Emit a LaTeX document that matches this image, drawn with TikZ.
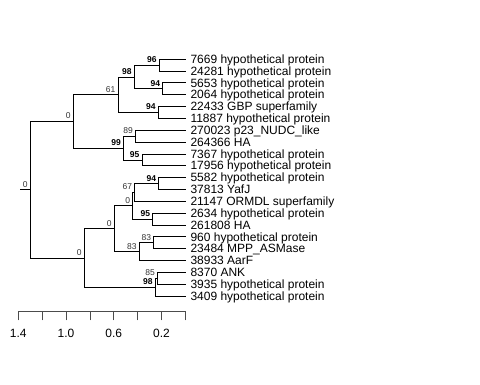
\documentclass[tikz,border=0pt]{standalone}
\usepackage{fontspec}
\setmainfont{Liberation Sans}

\begin{document}
\begin{tikzpicture}[x=1pt,y=-1pt,
	branch/.style={line width=0.6pt,line cap=rect},
	tip/.style={anchor=base west,inner sep=0pt,xshift=5pt,yshift=-4.3pt,font=\fontsize{12}{12}\selectfont},
	boot/.style={anchor=base east,inner sep=0pt,xshift=-2.5pt,yshift=2.5pt,font=\fontsize{8.5}{8.5}\selectfont\bfseries},
	weak/.style={boot,font=\fontsize{8.5}{8.5}\selectfont,text=black!80},
	scalelab/.style={anchor=center,inner sep=0pt,font=\fontsize{12}{12}\selectfont}]

	\useasboundingbox (0,0) rectangle (480,384);

	\foreach \lab [count=\i from 0] in {7669 hypothetical protein,24281 hypothetical protein,
		5653 hypothetical protein,2064 hypothetical protein,22433 GBP superfamily,
		11887 hypothetical protein,270023 p23\_NUDC\_like,264366 HA,
		7367 hypothetical protein,17956 hypothetical protein,5582 hypothetical protein,
		37813 YafJ,21147 ORMDL superfamily,2634 hypothetical protein,261808 HA,
		960 hypothetical protein,23484 MPP\_ASMase,38933 AarF,8370 ANK,
		3935 hypothetical protein,3409 hypothetical protein}{
		\coordinate (t\i) at (185.3,59+11.85*\i);
		\node[tip] (n\i) at (t\i) {\lab};
	}

	\coordinate (A) at (159.3,64.9);
	\coordinate (B) at (162.7,88.7);
	\coordinate (C) at (134.3,76.8);
	\coordinate (D) at (158.3,112.4);
	\coordinate (E) at (118,94.6);
	\coordinate (F) at (135.5,136.1);
	\coordinate (G) at (142,159.8);
	\coordinate (H) at (123.5,147.9);
	\coordinate (I) at (73.3,121.2);
	\coordinate (J) at (158.7,183.5);
	\coordinate (K) at (134.7,192.3);
	\coordinate (M) at (152.7,219);
	\coordinate (L) at (132.7,205.7);
	\coordinate (P) at (153.7,242.7);
	\coordinate (O) at (139.3,251.6);
	\coordinate (N) at (114.3,228.6);
	\coordinate (Q) at (157.5,278.3);
	\coordinate (R) at (155.3,287.2);
	\coordinate (S) at (84.3,257.9);
	\coordinate (root) at (30.3,189.6);
	\coordinate (stub) at (20,189.6);

	\draw[branch] (A) |- (t0);
	\draw[branch] (A) |- (t1);
	\draw[branch] (B) |- (t2);
	\draw[branch] (B) |- (t3);
	\draw[branch] (C) |- (A);
	\draw[branch] (C) |- (B);
	\draw[branch] (D) |- (t4);
	\draw[branch] (D) |- (t5);
	\draw[branch] (E) |- (C);
	\draw[branch] (E) |- (D);
	\draw[branch] (F) |- (t6);
	\draw[branch] (F) |- (t7);
	\draw[branch] (G) |- (t8);
	\draw[branch] (G) |- (t9);
	\draw[branch] (H) |- (F);
	\draw[branch] (H) |- (G);
	\draw[branch] (I) |- (E);
	\draw[branch] (I) |- (H);

	\draw[branch] (J) |- (t10);
	\draw[branch] (J) |- (t11);
	\draw[branch] (K) |- (J);
	\draw[branch] (K) |- (t12);
	\draw[branch] (M) |- (t13);
	\draw[branch] (M) |- (t14);
	\draw[branch] (L) |- (K);
	\draw[branch] (L) |- (M);
	\draw[branch] (P) |- (t15);
	\draw[branch] (P) |- (t16);
	\draw[branch] (O) |- (P);
	\draw[branch] (O) |- (t17);
	\draw[branch] (N) |- (L);
	\draw[branch] (N) |- (O);
	\draw[branch] (Q) |- (t18);
	\draw[branch] (Q) |- (t19);
	\draw[branch] (R) |- (Q);
	\draw[branch] (R) |- (t20);
	\draw[branch] (S) |- (N);
	\draw[branch] (S) |- (R);

	\draw[branch] (root) |- (I);
	\draw[branch] (root) |- (S);
	\draw[branch] (stub) -- (root);

	\node[boot] (bA) at (A) {96};
	\node[boot] (bB) at (B) {94};
	\node[boot] (bC) at (C) {98};
	\node[boot] (bD) at (D) {94};
	\node[weak] (bE) at (E) {61};
	\node[weak] (bF) at (F) {89};
	\node[boot] (bG) at (G) {95};
	\node[boot] (bH) at (H) {99};
	\node[weak] (bI) at (I) {0};
	\node[boot] (bJ) at (J) {94};
	\node[weak] (bK) at (K) {67};
	\node[boot] (bM) at (M) {95};
	\node[weak] (bL) at (L) {0};
	\node[weak] (bP) at (P) {83};
	\node[weak] (bO) at (O) {83};
	\node[weak] (bN) at (N) {0};
	\node[weak] (bQ) at (Q) {85};
	\node[boot] (bR) at (R) {98};
	\node[weak] (bS) at (S) {0};
	\node[weak] (broot) at (root) {0};

	\draw[branch,black!70] (18.3,311.7) -- (185.3,311.7);
	\foreach \k in {0,...,7}
		\draw[branch,black!70] (18.3+23.857*\k,311.7) -- (18.3+23.857*\k,320);
	\foreach \v/\k in {1.4/0,1.0/2,0.6/4,0.2/6}
		\node[scalelab] (s\k) at (18.3+23.857*\k,333) {\v};

\end{tikzpicture}
\end{document}
